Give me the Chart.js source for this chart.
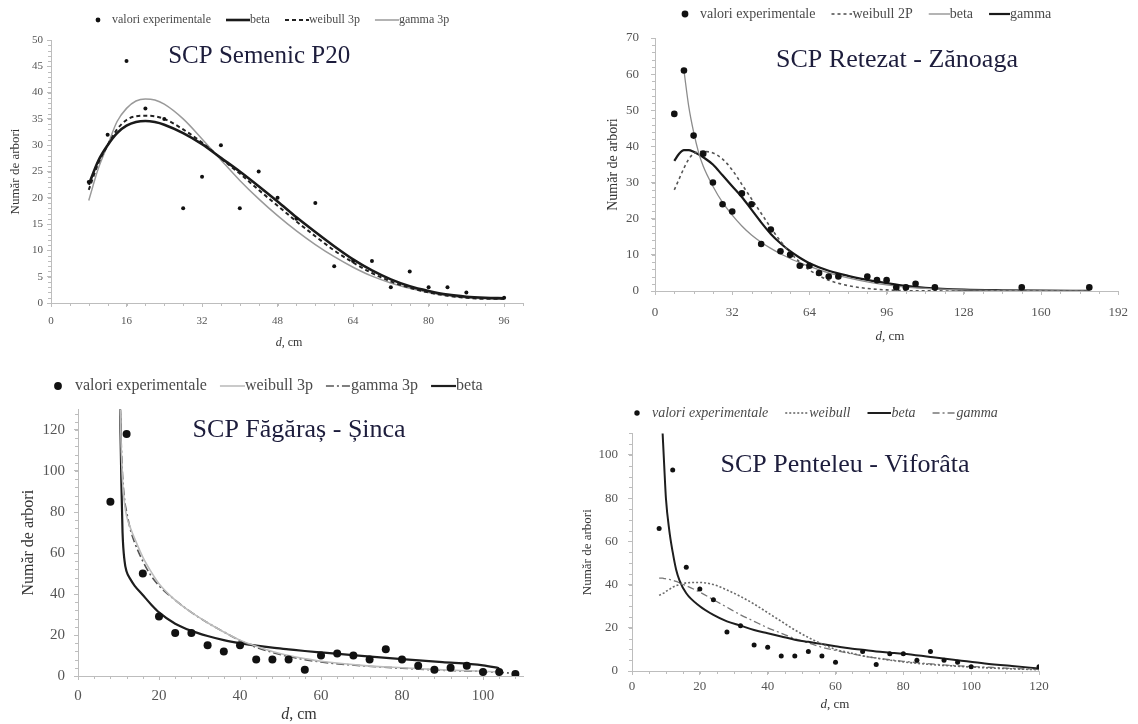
<!DOCTYPE html>
<html lang="ro">
<head>
<meta charset="utf-8">
<title>Distribuția numărului de arbori pe categorii de diametre</title>
<script src="https://cdn.jsdelivr.net/npm/chart.js@4.4.1/dist/chart.umd.min.js"></script>
<style>
  html, body { margin: 0; padding: 0; background: #fff; }
  body { position: relative; width: 1138px; height: 724px; overflow: hidden; }
  canvas { position: absolute; }
</style>
</head>
<body>
<canvas id="semenic" width="596" height="355" style="left:0px;top:0px"></canvas>
<canvas id="retezat" width="542" height="350" style="left:596px;top:0px"></canvas>
<canvas id="fagaras" width="570" height="364" style="left:0px;top:360px"></canvas>
<canvas id="penteleu" width="568" height="334" style="left:570px;top:390px"></canvas>
<script>
// --- SCP Semenic P20 ---
const semenicD = [8, 12, 16, 20, 24, 28, 32, 36, 40, 44, 48, 52, 56, 60, 64, 68, 72, 76, 80, 84, 88, 96];
const semenicObs = [23, 32, 46, 37, 35, 18, 24, 30, 18, 25, 20, 16, 19, 7, 8, 8, 3, 6, 3, 3, 2, 1];
const semenicCurveD = [8, 10, 12, 14, 16, 18, 20, 22, 24, 28, 32, 36, 40, 44, 48, 52, 56, 60, 64, 68, 72, 76, 80, 84, 88, 92, 96];
const semenicBeta = [22.5, 27, 30, 32.3, 33.7, 34.4, 34.6, 34.4, 33.9, 32.3, 30.2, 27.6, 25, 22.2, 19.3, 16.3, 13.5, 10.8, 8.3, 6.2, 4.5, 3.2, 2.3, 1.6, 1.2, 1, 0.9];
const semenicWeibull = [21.5, 26.5, 30, 33, 34.8, 35.5, 35.6, 35.5, 35, 33, 30.5, 27.5, 24.6, 21.5, 18.5, 15.5, 12.7, 10, 7.7, 5.7, 4.1, 2.9, 2, 1.4, 1, 0.8, 0.8];
const semenicGamma = [19.5, 25.5, 30, 34.5, 37, 38.4, 38.8, 38.6, 37.8, 35, 31.2, 27.2, 23.3, 19.8, 16.6, 13.7, 11.1, 8.8, 6.8, 5.1, 3.8, 2.8, 2, 1.4, 1, 0.8, 0.7];
const semenicXTicks = [0, 16, 32, 48, 64, 80, 96];
const semenicYTicks = [0, 5, 10, 15, 20, 25, 30, 35, 40, 45, 50];

// --- SCP Retezat - Zănoaga ---
const retezatD = [8, 12, 16, 20, 24, 28, 32, 36, 40, 44, 48, 52, 56, 60, 64, 68, 72, 76, 88, 92, 96, 100, 104, 108, 116, 152, 180];
const retezatObs = [49, 61, 43, 38, 30, 24, 22, 27, 24, 13, 17, 11, 10, 7, 7, 5, 4, 4, 4, 3, 3, 1, 1, 2, 1, 1, 1];
const retezatCurveD = [8, 10, 12, 14, 16, 18, 20, 24, 28, 32, 36, 40, 44, 48, 52, 56, 60, 64, 72, 80, 88, 96, 104, 112, 128, 144, 160, 180];
const retezatWeibull = [28, 31, 34, 36.5, 38, 38.5, 38.6, 38.2, 36.5, 33.5, 29.5, 25.5, 21.5, 17.5, 13.8, 10.6, 8, 5.8, 3, 1.5, 0.7, 0.3, 0.1, 0.05, 0, 0, 0, 0];
const retezatBeta = [null, null, 61, 51, 44, 38.5, 34.5, 29, 24.5, 21, 18, 15.5, 13.5, 11.8, 10.3, 9, 7.8, 6.8, 5, 3.6, 2.5, 1.7, 1.1, 0.7, 0.3, 0.15, 0.08, 0.04];
const retezatGamma = [36, 38, 39, 39, 38.5, 37.8, 37, 35, 32, 29, 26, 22.5, 19, 15.8, 13.2, 11, 9.2, 7.7, 5.6, 4.2, 3.1, 2.2, 1.4, 0.9, 0.4, 0.2, 0.1, 0.05];
const retezatXTicks = [0, 32, 64, 96, 128, 160, 192];
const retezatYTicks = [0, 10, 20, 30, 40, 50, 60, 70];

// --- SCP Făgăraș - Șinca ---
const fagarasD = [8, 12, 16, 20, 24, 28, 32, 36, 40, 44, 48, 52, 56, 60, 64, 68, 72, 76, 80, 84, 88, 92, 96, 100, 104, 108];
const fagarasObs = [85, 118, 50, 29, 21, 21, 15, 12, 15, 8, 8, 8, 3, 10, 11, 10, 8, 13, 8, 5, 3, 4, 5, 2, 2, 1];
const fagarasCurveD = [10.4, 10.7, 11, 11.5, 12, 13, 14, 16, 18, 20, 24, 28, 32, 36, 40, 44, 48, 52, 56, 60, 70, 80, 90, 100, 104, 108];
const fagarasWeibull = [131, 110, 95, 84, 78, 72, 67, 58, 51, 45, 37, 31, 26, 21.5, 17.5, 14.5, 12, 10, 8.5, 7.2, 5.2, 4, 3, 2.3, 2, null];
const fagarasGamma = [131, 112, 98, 86, 80, 71, 65, 56, 49, 44, 37, 31, 26, 21.5, 17.3, 14, 11.5, 9.5, 8, 6.8, 5, 3.8, 2.8, 2.2, 1.8, 1.2];
const fagarasBeta = [131, 95, 70, 56, 51, 47, 44, 39.5, 35, 31, 25.5, 22, 19.5, 17.5, 16, 14.8, 13.8, 13, 12.2, 11.5, 9.8, 8.2, 6.8, 5.2, 3.8, null];
const fagarasXTicks = [0, 20, 40, 60, 80, 100];
const fagarasYTicks = [0, 20, 40, 60, 80, 100, 120];

// --- SCP Penteleu - Viforâta ---
const penteleuD = [8, 12, 16, 20, 24, 28, 32, 36, 40, 44, 48, 52, 56, 60, 68, 72, 76, 80, 84, 88, 92, 96, 100, 120];
const penteleuObs = [66, 93, 48, 38, 33, 18, 21, 12, 11, 7, 7, 9, 7, 4, 9, 3, 8, 8, 5, 9, 5, 4, 2, 2];
const penteleuCurveD = [8, 9, 9.5, 10, 11, 12, 13, 14, 16, 20, 24, 28, 32, 36, 40, 44, 48, 52, 56, 60, 64, 68, 72, 76, 80, 88, 96, 104, 112, 120];
const penteleuWeibull = [35, 35.8, 36.2, 36.8, 37.8, 38.8, 39.5, 40, 40.8, 41, 40, 37.5, 34.5, 31, 27, 23, 19, 15.5, 12.5, 10, 8.5, 7, 6, 5, 4.2, 3, 2.2, 1.5, 1, 0.6];
const penteleuBeta = [null, 111, 95, 80, 65, 55, 47, 42, 36, 30, 26, 23, 21, 19, 17.5, 16, 14.5, 13.5, 12.5, 11.5, 10.5, 9.8, 9, 8.5, 8, 6.5, 5, 3.5, 2.3, 1.2];
const penteleuGamma = [43, 43, 42.8, 42.7, 42.4, 42, 41.5, 40.8, 39.5, 36.5, 33, 29.5, 26, 23, 20, 17.5, 15, 13, 11, 9.5, 8.2, 7, 6, 5.2, 4.5, 3.3, 2.4, 1.8, 1.2, 0.8];
const penteleuXTicks = [0, 20, 40, 60, 80, 100, 120];
const penteleuYTicks = [0, 20, 40, 60, 80, 100];

const FONT = "'Liberation Serif', 'Times New Roman', serif";
const AXIS = '#bdbdbd';
const TICK = '#555';
const LEGEND = '#4a4a4a';
const TITLE = '#1d1d3c';

Chart.defaults.font.family = FONT;

function pairs(xs, ys) {
  return xs.map((x, i) => ({ x: x, y: ys[i] }));
}

function points(label, xs, ys, r) {
  return { label, data: pairs(xs, ys), showLine: false, pointRadius: r, pointHoverRadius: r,
    pointBackgroundColor: '#111', pointBorderWidth: 0 };
}

function curve(label, xs, ys, color, width, dash) {
  return { label, data: pairs(xs, ys), showLine: true, pointRadius: 0, pointHoverRadius: 0,
    borderColor: color, borderWidth: width, borderDash: dash || [],
    cubicInterpolationMode: 'monotone', fill: false };
}

// small pictures used as legend symbols; they end right where the label text starts
function legendSymbol(ds, p) {
  const w = p.boxW + p.legendSize;
  const c = document.createElement('canvas');
  c.width = w; c.height = 14;
  const g = c.getContext('2d');
  if (!ds.showLine) {
    g.fillStyle = '#111';
    g.beginPath(); g.arc(w - p.dotGap, 7, p.dotR + 0.4, 0, Math.PI * 2); g.fill();
  } else {
    g.strokeStyle = ds.borderColor; g.lineWidth = ds.borderWidth;
    g.setLineDash(ds.borderDash);
    g.beginPath(); g.moveTo(w - p.symLen, 7); g.lineTo(w, 7); g.stroke();
  }
  return c;
}

function makePanel(p) {
  const symbols = p.datasets.map(d => legendSymbol(d, p));

  const decorations = {
    id: 'decor_' + p.id,
    afterLayout(chart) {
      // legend takes no layout room; put it where the original has it
      const lg = chart.legend;
      const boxLeft = (p.legendTextX - p.left) - p.boxW - p.legendSize / 2;
      const dx = boxLeft - (lg.left + p.legendPad);
      lg.left += dx; lg.right += dx;
      lg.top = (p.legendY - p.top) - p.legendPad - p.legendSize / 2;
      lg.bottom = lg.top + p.legendSize + 2 * p.legendPad + 10;
    },
    afterDraw(chart) {
      const { ctx, chartArea: a, scales: { x, y } } = chart;
      ctx.save();
      // minor ticks
      ctx.strokeStyle = AXIS; ctx.lineWidth = 1;
      ctx.beginPath();
      for (let v = 0; v <= p.xMax + 1e-9; v += p.xMinor) {
        const px = Math.round(x.getPixelForValue(v)) + 0.5;
        ctx.moveTo(px, a.bottom); ctx.lineTo(px, a.bottom + 3);
      }
      for (let v = 0; v <= p.yMax + 1e-9; v += p.yMinor) {
        const py = Math.round(y.getPixelForValue(v)) + 0.5;
        ctx.moveTo(a.left - 3, py); ctx.lineTo(a.left, py);
      }
      ctx.stroke();

      // panel title
      ctx.font = p.titleSize + 'px ' + FONT;
      ctx.fillStyle = TITLE;
      ctx.textAlign = 'center';
      ctx.textBaseline = 'middle';
      ctx.fillText(p.title, x.getPixelForValue(p.titleAt[0]), y.getPixelForValue(p.titleAt[1]));

      // x axis title with italic d
      const italic = 'italic ' + p.xTitleSize + 'px ' + FONT;
      const normal = p.xTitleSize + 'px ' + FONT;
      ctx.font = italic; const w1 = ctx.measureText('d').width;
      ctx.font = normal; const w2 = ctx.measureText(', cm').width;
      const x0 = (p.xTitle[0] - p.left) - (w1 + w2) / 2;
      const y0 = p.xTitle[1] - p.top;
      ctx.fillStyle = '#333';
      ctx.textAlign = 'left';
      ctx.font = italic; ctx.fillText('d', x0, y0);
      ctx.font = normal; ctx.fillText(', cm', x0 + w1, y0);
      ctx.restore();
    }
  };

  return new Chart(document.getElementById(p.id), {
    type: 'scatter',
    data: { datasets: p.datasets },
    options: {
      responsive: false,
      animation: false,
      devicePixelRatio: 1,
      events: [],
      layout: {
        padding: {
          left: 0,
          right: p.left + p.width - p.R,
          top: p.T - p.top - 1,
          bottom: 0
        }
      },
      plugins: {
        legend: {
          position: 'top',
          align: 'start',
          maxHeight: 1,
          labels: {
            usePointStyle: true,
            pointStyleWidth: p.boxW,
            boxHeight: p.legendSize,
            padding: p.legendPad,
            color: LEGEND,
            font: { size: p.legendSize, style: p.legendItalic ? 'italic' : 'normal' },
            generateLabels: (chart) => chart.data.datasets.map((d, i) => ({
              text: d.label, pointStyle: symbols[i], fillStyle: 'rgba(0,0,0,0)',
              strokeStyle: 'rgba(0,0,0,0)', lineWidth: 0, hidden: false,
              datasetIndex: i, fontColor: LEGEND
            }))
          }
        },
        tooltip: { enabled: false }
      },
      scales: {
        x: {
          type: 'linear', min: 0, max: p.xMax,
          afterBuildTicks: (axis) => { axis.ticks = p.xTicks.map(v => ({ value: v })); },
          afterFit: (s) => { s.height = p.top + p.height - p.B; },
          grid: { drawOnChartArea: false, tickLength: 4, color: AXIS },
          border: { color: AXIS },
          ticks: { color: TICK, font: { size: p.tickSize }, padding: p.xTickPad, maxRotation: 0, autoSkip: false },
          title: { display: false }
        },
        y: {
          type: 'linear', min: 0, max: p.yMax,
          afterBuildTicks: (axis) => { axis.ticks = p.yTicks.map(v => ({ value: v })); },
          afterFit: (s) => { s.width = p.L - p.left; },
          grid: { drawOnChartArea: false, tickLength: 4, color: AXIS },
          border: { color: AXIS },
          ticks: { color: TICK, font: { size: p.tickSize }, padding: p.yTickPad, autoSkip: false },
          title: {
            display: true, text: 'Număr de arbori', color: '#333',
            font: { size: p.yTitleSize }, padding: { top: p.yTitlePad, bottom: 0 }
          }
        }
      }
    },
    plugins: [decorations]
  });
}

makePanel({
  id: 'semenic', left: 0, top: 0, width: 596, height: 355,
  L: 51, R: 523, T: 40, B: 303,
  xMax: 100, xTicks: semenicXTicks, xMinor: 4,
  yMax: 50, yTicks: semenicYTicks, yMinor: 1,
  tickSize: 11, xTickPad: 8, yTickPad: 4, yTitleSize: 13, yTitlePad: 8,
  xTitle: [289, 343], xTitleSize: 12,
  title: 'SCP Semenic P20', titleAt: [44.1, 46.8], titleSize: 25,
  legendTextX: 112, legendY: 20, legendSize: 12, legendPad: 15, boxW: 18, symLen: 24, dotGap: 14, dotR: 2,
  legendItalic: false,
  datasets: [
    points('valori experimentale', semenicD, semenicObs, 2),
    curve('beta', semenicCurveD, semenicBeta, '#1a1a1a', 2.6),
    curve('weibull 3p', semenicCurveD, semenicWeibull, '#222', 2, [4, 3]),
    curve('gamma 3p', semenicCurveD, semenicGamma, '#9a9a9a', 1.5)
  ]
});

makePanel({
  id: 'retezat', left: 596, top: 0, width: 542, height: 350,
  L: 655, R: 1124, T: 38, B: 291,
  xMax: 192, xTicks: retezatXTicks, xMinor: 8,
  yMax: 70, yTicks: retezatYTicks, yMinor: 2,
  tickSize: 13, xTickPad: 10, yTickPad: 12, yTitleSize: 14, yTitlePad: 8.6,
  xTitle: [890, 337], xTitleSize: 13,
  title: 'SCP Retezat - Zănoaga', titleAt: [100.3, 63.9], titleSize: 26,
  legendTextX: 700, legendY: 14, legendSize: 14, legendPad: 16, boxW: 14, symLen: 21, dotGap: 15, dotR: 3,
  legendItalic: false,
  datasets: [
    points('valori experimentale', retezatD, retezatObs, 3.3),
    curve('weibull 2P', retezatCurveD, retezatWeibull, '#555', 1.6, [3, 3]),
    curve('beta', retezatCurveD, retezatBeta, '#8c8c8c', 1.3),
    curve('gamma', retezatCurveD, retezatGamma, '#1a1a1a', 2.2)
  ]
});

makePanel({
  id: 'fagaras', left: 0, top: 360, width: 570, height: 364,
  L: 78, R: 523.5, T: 409.5, B: 676,
  xMax: 110, xTicks: fagarasXTicks, xMinor: 4,
  yMax: 130, yTicks: fagarasYTicks, yMinor: 4,
  tickSize: 15, xTickPad: 7, yTickPad: 9, yTitleSize: 16, yTitlePad: 19,
  xTitle: [299, 715], xTitleSize: 16,
  title: 'SCP Făgăraș - Șinca', titleAt: [54.6, 120], titleSize: 26,
  legendTextX: 75, legendY: 386, legendSize: 16, legendPad: 14, boxW: 16, symLen: 25, dotGap: 17, dotR: 3.5,
  legendItalic: false,
  datasets: [
    points('valori experimentale', fagarasD, fagarasObs, 4),
    curve('weibull 3p', fagarasCurveD, fagarasWeibull, '#bdbdbd', 1.6),
    curve('gamma 3p', fagarasCurveD, fagarasGamma, '#555', 1.6, [8, 3, 2, 3]),
    curve('beta', fagarasCurveD, fagarasBeta, '#1e1e1e', 2.2)
  ]
});

makePanel({
  id: 'penteleu', left: 570, top: 390, width: 568, height: 334,
  L: 632, R: 1039, T: 433.4, B: 671,
  xMax: 120, xTicks: penteleuXTicks, xMinor: 5,
  yMax: 110, yTicks: penteleuYTicks, yMinor: 5,
  tickSize: 13, xTickPad: 4, yTickPad: 10, yTitleSize: 13, yTitlePad: 10,
  xTitle: [835, 705], xTitleSize: 13,
  title: 'SCP Penteleu - Viforâta', titleAt: [62.8, 95.4], titleSize: 26,
  legendTextX: 652, legendY: 413, legendSize: 14, legendPad: 18, boxW: 16, symLen: 24, dotGap: 15, dotR: 2.3,
  legendItalic: true,
  datasets: [
    points('valori experimentale', penteleuD, penteleuObs, 2.5),
    curve('weibull', penteleuCurveD, penteleuWeibull, '#6a6a6a', 1.6, [2, 2]),
    curve('beta', penteleuCurveD, penteleuBeta, '#1e1e1e', 2),
    curve('gamma', penteleuCurveD, penteleuGamma, '#777', 1.3, [7, 3, 2, 3])
  ]
});
</script>
</body>
</html>
